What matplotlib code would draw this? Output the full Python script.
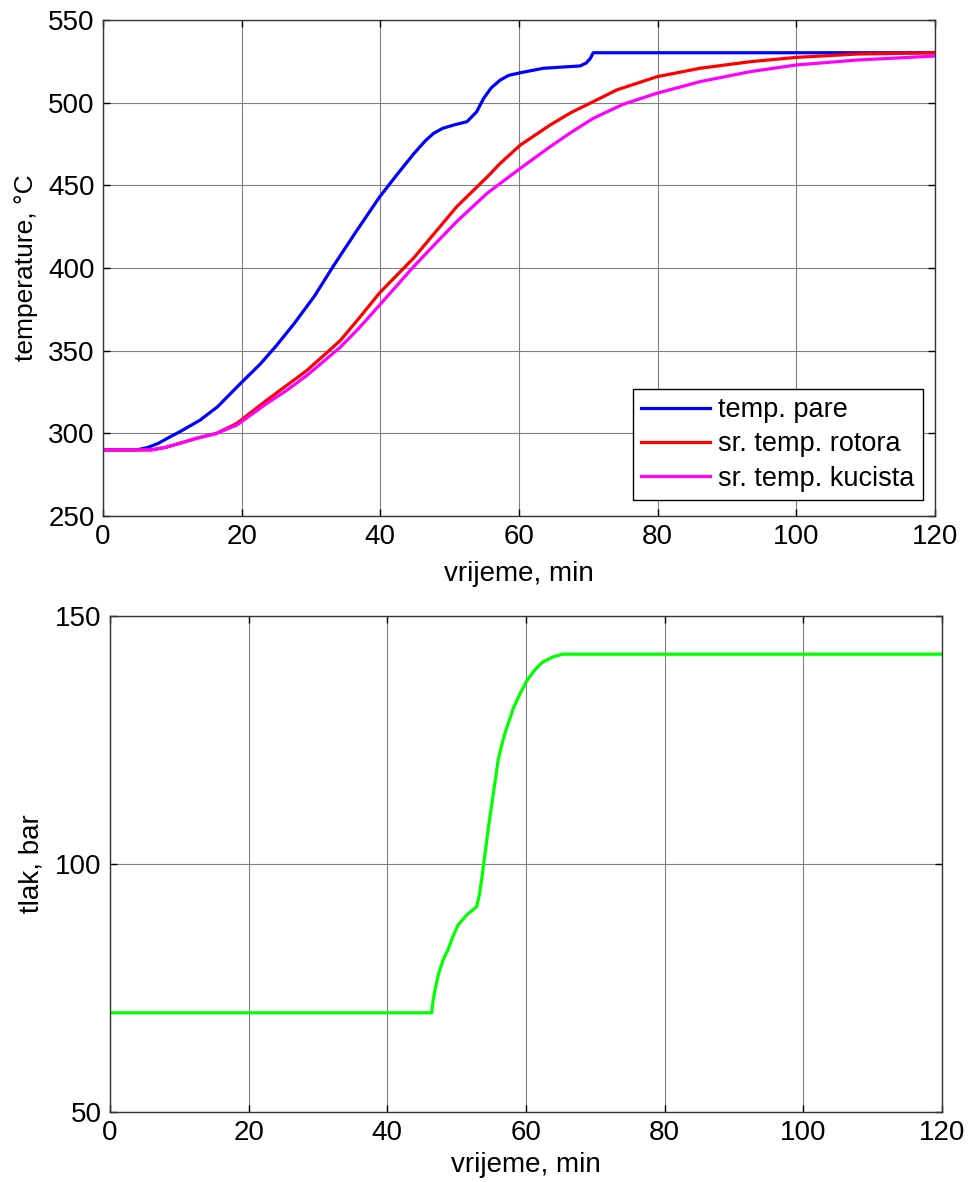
import numpy as np
import matplotlib
matplotlib.use('Agg')
import matplotlib.pyplot as plt

# top plot: temperatures (time in min, temperature in degC)
t_pare = [0, 4.9, 6.5, 8, 9.5, 11.1, 14, 16.5, 19.8, 22.7, 25, 27.5, 30.5, 33.2,
          36.5, 39.9, 42.5, 44.8, 46.5, 47.7, 49, 50.6, 52.5, 53.9, 54.9, 56,
          57.3, 58.5, 60.2, 63.5, 68.8, 69.7, 70.3, 70.7, 120]
T_pare = [290, 290, 291.5, 294, 297.5, 301, 308, 316, 330, 342, 353, 366, 383, 401,
          422, 443, 457, 469, 477, 481.5, 484.5, 486.5, 488.5, 494.5, 502.6, 509,
          513.7, 516.5, 518.1, 520.8, 522.2, 524, 526.8, 530.2, 530.2]

t_rotor = [0, 7, 9, 11.1, 13.5, 16.4, 19.3, 23.6, 26.5, 29.4, 34.2, 37, 39.9,
           44.8, 48, 51.0, 55.4, 57.3, 60.2, 64.5, 67.5, 70.7, 74.1, 79.9,
           86.1, 93.4, 100, 108.8, 120]
T_rotor = [290, 290, 291.5, 294, 297, 300, 306, 320, 329, 338, 356, 370, 385,
           406, 422, 437, 455, 463.3, 474.4, 486.5, 494, 500.6, 507.7, 515.7,
           520.8, 524.8, 527.4, 529.4, 530.2]

t_kuc = [0, 7, 9, 11.1, 13.5, 16.4, 19.3, 23.6, 26.5, 29.4, 34.2, 37, 39.9,
         44.8, 48, 51.0, 55.4, 57.3, 60.2, 64.5, 67.5, 70.7, 75, 79.9, 86.1,
         93.4, 100, 108.8, 120]
T_kuc = [290, 290, 291.5, 294, 297, 300, 305, 318, 326, 335, 352, 364, 377.6,
         400.8, 415, 428, 445.2, 451.2, 460.3, 473.4, 482, 490.5, 499, 505.7, 512.7,
         518.8, 522.8, 525.8, 528.2]

# bottom plot: pressure (bar)
t_tlak = [0, 46.4, 46.6, 47.0, 47.4, 48.0, 48.8, 49.5, 50.2, 51.5, 52.9, 53.3, 53.6,
          54.1, 54.6, 55.3, 56.0, 56.5, 57.0, 58.2, 59.2, 60.1, 61.2, 62.3, 63.8,
          65.2, 120]
p_tlak = [70, 70, 72.5, 75.5, 77.9, 80.5, 82.9, 85.5, 87.7, 89.8, 91.4, 94, 96.8,
          102.2, 107.6, 114.3, 121.1, 124, 126.5, 131.5, 134.5, 136.9, 139, 140.6,
          141.7, 142.3, 142.3]

labels = ['temp. pare', 'sr. temp. rotora', 'sr. temp. kucista']

plt.rcParams['font.family'] = ['Liberation Sans', 'DejaVu Sans']
plt.rcParams['font.size'] = 19

W, H = 968, 1182
fig = plt.figure(figsize=(W / 100, H / 100), dpi=100)
ax1 = fig.add_axes([103 / W, 1 - 516 / H, (935 - 103) / W, (516 - 20) / H])
ax2 = fig.add_axes([110 / W, 1 - 1112 / H, (942 - 110) / W, (1112 - 616) / H])

lw = 2.3
ax1.plot(t_pare, T_pare, color='#0000ff', lw=lw, label=labels[0])
ax1.plot(t_rotor, T_rotor, color='#ff0000', lw=lw, label=labels[1])
ax1.plot(t_kuc, T_kuc, color='#ff00ff', lw=lw, label=labels[2])
ax1.set_xlim(0, 120)
ax1.set_ylim(250, 550)
ax1.set_yticks(np.arange(250, 551, 50))
ax1.set_ylabel('temperature, °C', fontsize=19, labelpad=7)
ax1.set_xlabel('vrijeme, min', fontsize=20, labelpad=8)
leg = ax1.legend(loc='lower right', bbox_to_anchor=(0.985, 0.033), fancybox=False,
                 edgecolor='black', framealpha=1, handlelength=2.55,
                 borderpad=0.3, labelspacing=0.3, handletextpad=0.3, fontsize=19.5,
                 borderaxespad=0)
leg.get_frame().set_linewidth(1.0)

ax2.plot(t_tlak, p_tlak, color='#00ff00', lw=lw)
ax2.set_xlim(0, 120)
ax2.set_ylim(50, 150)
ax2.set_yticks([50, 100, 150])
ax2.set_ylabel('tlak, bar', fontsize=20, labelpad=8)
ax2.set_xlabel('vrijeme, min', fontsize=20, labelpad=4)

for ax in (ax1, ax2):
    ax.set_xticks(np.arange(0, 121, 20))
    ax.grid(True, color='#808080', lw=0.8)
    ax.set_axisbelow(True)
    ax.tick_params(direction='in', length=5, width=1, top=True, right=True,
                   labelsize=20, pad=6)
    for s in ax.spines.values():
        s.set_linewidth(1.0)
        s.set_color('#333333')

fig.savefig('out.png', dpi=100)
